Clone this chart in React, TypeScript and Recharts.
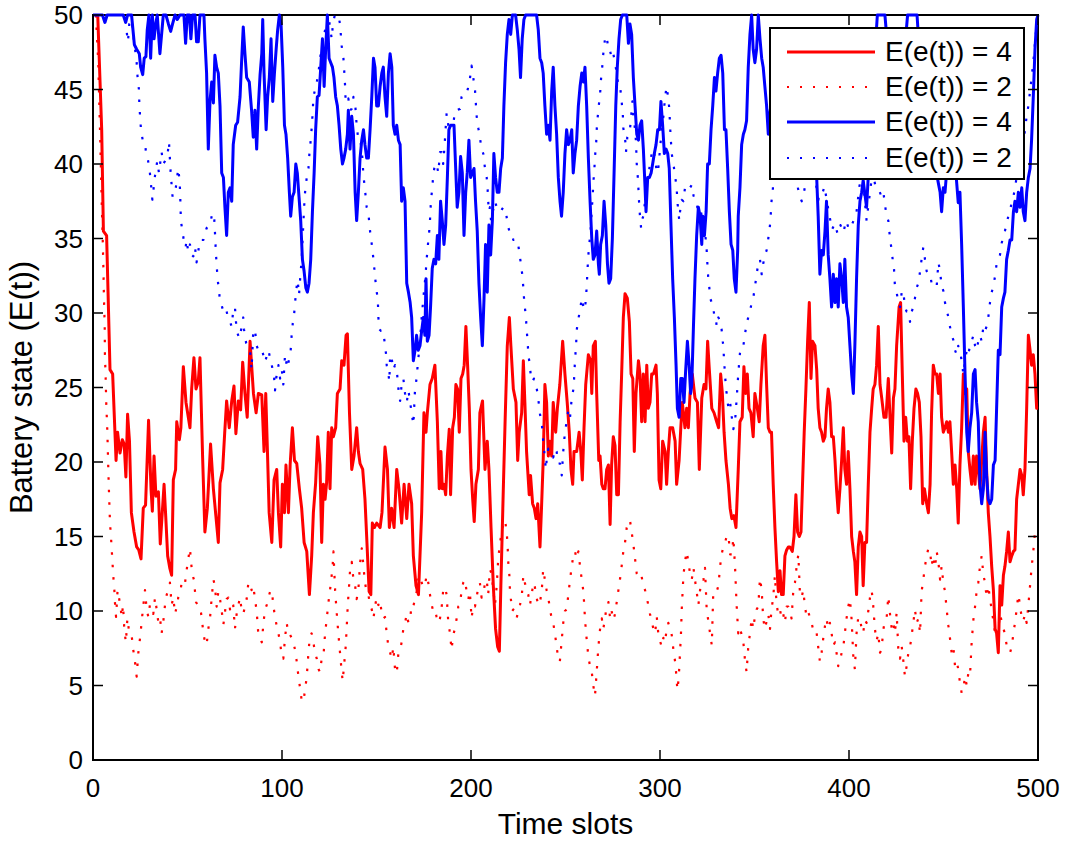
import React from 'react';
import { LineChart, Line, XAxis, YAxis, Legend, Label, ReferenceArea } from 'recharts';

// [time slot, battery state]
const RED_4: [number, number][] = [
  [2.5, 50], [4.6, 42.3], [5.5, 35.5], [7.2, 35.2], [9, 26.2], [10.4, 25.9], [12.2, 20.1], [13, 22], [14.3, 20.6], [15.5, 21.5],
  [16.5, 21.2], [17.4, 19], [18.3, 23.2], [19.3, 21.4], [20.3, 16.6], [21.7, 15.3], [23.1, 14.3], [24.2, 14.1], [25.4, 13.5], [26.6, 16.9],
  [27.8, 17.1], [29.4, 22.8], [30.7, 18.2], [31.4, 16.7], [32.3, 20.4], [33.3, 17.7], [34.6, 18], [35.6, 14.5], [37.6, 18.5], [38.5, 16.3],
  [39.5, 13.7], [40.6, 12.9], [41.6, 12.4], [42.5, 18.8], [43.7, 19.5], [44.3, 22.7], [45.7, 21.5], [46.5, 22.3], [47.8, 26.4], [49.2, 24],
  [51.3, 22.3], [52.2, 24.9], [53.4, 27], [54.5, 24.9], [55.7, 25.4], [56.6, 27], [58, 20.3], [59.2, 15.3], [60.5, 16.9], [62.2, 21.2],
  [63.7, 18.2], [65, 16.4], [66.3, 14.6], [67.2, 18.6], [68.6, 19.5], [69.7, 22], [70.7, 24.1], [72.1, 22.3], [73.4, 24.1], [74.6, 25.1],
  [75.6, 21.9], [76.9, 24.1], [78.1, 23.5], [79.2, 26.7], [80.4, 24.6], [81.6, 23], [83.1, 28.1], [84.9, 24.6], [86.3, 23.3], [87.5, 24.6],
  [89.3, 24.5], [90.5, 20.7], [91.4, 24.6], [92.3, 20.7], [93.2, 16.6], [94.6, 14.6], [95.8, 18.8], [97.2, 19.5], [98.1, 16.6], [99.3, 14.3],
  [100.2, 18.5], [101.3, 16.6], [102.1, 19.8], [103.4, 16.6], [104.3, 19.8], [105.5, 22.3], [106.6, 20.1], [107.8, 19.9], [109.2, 18.2], [110.4, 16.9],
  [111.7, 14.6], [113.1, 14], [114.5, 11.1], [115.7, 13.7], [116.6, 16.6], [117.8, 18.6], [118.9, 21.7], [120.1, 19.8], [121, 14.6], [121.9, 18.5],
  [122.8, 17.5], [123.6, 18.6], [124.5, 22], [125.4, 18.2], [126.3, 22.3], [127.2, 21.7], [128.4, 22.3], [129.3, 24.6], [130.7, 24.9], [131.6, 26.8],
  [132.8, 26.5], [133.9, 28.5], [134.6, 28.6], [135.7, 23.3], [136.9, 19.5], [138.1, 20.4], [139.5, 22.3], [140.4, 20.7], [141.3, 19.9], [142.7, 19.5],
  [143.9, 17.5], [144.8, 15], [146.1, 11.3], [147, 11.1], [147.8, 15.9], [148.9, 15.6], [150.1, 15.9], [151.9, 15.6], [152.9, 16.6], [154.5, 21],
  [155.8, 19.5], [156.8, 15.6], [158, 16.9], [159.3, 15.6], [160.7, 19.5], [161.9, 18.2], [163.3, 15.9], [164.6, 18.5], [166, 16.2], [167.2, 18.5],
  [168.6, 17.2], [169.5, 13.7], [170.9, 11.7], [172.2, 11.1], [173.9, 16.6], [175.1, 23.3], [176.2, 22], [176.9, 23.3], [178.3, 25.2], [179.5, 25.6],
  [180.9, 26.5], [182.2, 22.7], [183.2, 18.2], [184.1, 20.7], [184.8, 18.2], [185.7, 18.5], [186.6, 17.8], [187.5, 20.4], [188.5, 22.2], [189.2, 17.8],
  [190.3, 22.3], [191.2, 23], [192, 25.2], [192.9, 24.9], [193.8, 22], [194.7, 25.6], [195.6, 25.9], [196.4, 26.5], [197.3, 29.1], [198.2, 26.5],
  [199.1, 23.6], [200, 19.5], [200.9, 17.5], [201.7, 16], [202.6, 18.5], [203.9, 19.5], [204.7, 23.3], [206.1, 24.1], [207.4, 19.5], [208.6, 21.4],
  [209.5, 19.5], [210.6, 15.6], [211.8, 11.7], [213, 8.8], [214.1, 7.6], [215, 7.3], [215.8, 11.7], [217.1, 18.2], [218.1, 23], [219.2, 27.8],
  [220.3, 29.7], [221.1, 27.8], [222.4, 24.9], [223.8, 24], [224.7, 20.1], [225.5, 22], [226.8, 23.3], [227.7, 26.8], [228.5, 24], [229.4, 20.7],
  [230.8, 17.8], [231.5, 19.1], [232.6, 17.2], [233.5, 16.9], [234.4, 16.2], [235.3, 17.2], [236.5, 14.3], [237.3, 16.9], [238.2, 20.1], [239.1, 25.2],
  [240, 24], [240.9, 20.4], [241.8, 21.4], [242.7, 20.4], [243.5, 24], [244.8, 22], [245.7, 23.6], [247, 25.2], [248.5, 28.1], [249.7, 25.9],
  [250.9, 24], [252, 22], [252.9, 19.5], [253.8, 18.5], [254.5, 20.7], [255.9, 20.7], [257.2, 22], [258.1, 20.7], [258.9, 18.8], [259.8, 22.3],
  [260.7, 25.2], [262.1, 27.2], [263.3, 26.8], [263.9, 24.6], [264.7, 27.8], [265.8, 28.1], [266.5, 24.6], [267.6, 20.1], [268.3, 20.4], [269.2, 18.5],
  [270, 18.2], [270.9, 18.2], [271.8, 19.5], [272.7, 19.8], [273.6, 15.8], [274.4, 19.8], [275.3, 21.7], [276.2, 21.1], [277.1, 17.8], [278, 17.8],
  [278.9, 22.7], [279.7, 25.9], [280.6, 29.7], [281.5, 31.3], [282.7, 31], [283.8, 29.4], [284.7, 25.9], [285.6, 25.6], [286.4, 20.7], [287.3, 24.6],
  [288.6, 26.8], [289.4, 25.9], [290.3, 22.7], [291.2, 25.9], [292.1, 22.7], [293, 26.5], [293.8, 23.6], [294.7, 24], [295.6, 25.9], [296.5, 25.9],
  [297.9, 26.5], [298.6, 24.6], [299.5, 18.8], [300.4, 18.2], [301.4, 21.4], [302.7, 20.7], [303.5, 18.5], [304.4, 20.7], [305.3, 22.3], [306.7, 22.3],
  [308, 21.4], [308.8, 18.5], [310.1, 20.1], [311, 22.3], [311.8, 24], [313.2, 22.3], [314.1, 23.6], [315, 22.3], [315.9, 24.6], [317.1, 25.9],
  [318.5, 24.3], [319.8, 24], [320.8, 19.5], [322.1, 24.3], [323.3, 25.2], [324.3, 24.9], [325.2, 28.1], [326.1, 26.2], [327.4, 23.6], [328.6, 23.3],
  [330, 22.7], [331, 22.3], [332.1, 25.9], [333, 24.6], [333.9, 22], [334.9, 20.1], [336.2, 18.5], [337.1, 16.9], [338, 16.2], [339.1, 16.4],
  [340.2, 15.6], [341.4, 19.5], [342.3, 22.7], [343.5, 23], [344.4, 26.4], [345.3, 24.6], [346.2, 25.9], [347.1, 23.6], [348.1, 23.3], [349.3, 21.7],
  [350.2, 24.6], [351.5, 23.6], [352.5, 22.7], [353.4, 25.2], [354.6, 27.8], [355.5, 28.5], [356.4, 25.2], [357.3, 22.3], [358.2, 22], [359, 22],
  [359.9, 18.5], [360.8, 15.6], [361.7, 13.3], [362.6, 11.3], [363.5, 12.7], [364.3, 11.1], [365.2, 11.1], [366.1, 13.7], [367, 14.1], [367.9, 14.3],
  [368.7, 14.3], [370, 14], [370.9, 15], [371.9, 17.8], [372.8, 15.3], [373.7, 15], [374.6, 15.3], [375.4, 18.5], [376.3, 22], [377.2, 24.9],
  [378.1, 28.1], [379, 30.7], [379.9, 25.6], [380.7, 28.1], [382, 27.8], [382.9, 26.2], [383.7, 23.6], [384.6, 22.3], [385.5, 22], [386.4, 21.4],
  [387.3, 21.7], [388.1, 23.6], [389, 24.9], [389.9, 24], [390.8, 21.7], [391.7, 21.7], [392.6, 20.1], [393.4, 18.2], [394.3, 16.6], [395.2, 18.2],
  [396.1, 20.1], [397, 22.3], [397.8, 19.5], [398.7, 18.5], [399.6, 20.7], [400.5, 18.2], [401.4, 15], [402.3, 14], [403.1, 13.3], [404, 11.1],
  [404.9, 14.3], [405.8, 15.3], [406.7, 15], [407.5, 11.7], [408.4, 14.6], [409.3, 14.6], [410.2, 18.5], [411.1, 22], [412, 23.6], [412.8, 24.9],
  [413.7, 25.2], [414.6, 26.5], [415.5, 29.1], [416.4, 25.2], [417.3, 24.3], [418.5, 23], [419.6, 23], [420.8, 25.6], [421.7, 23], [422.6, 20.6],
  [423.5, 24.3], [424.3, 24.9], [425.2, 27.8], [426.5, 30.4], [427.3, 30.7], [428.2, 25.9], [429.1, 21.4], [430, 23], [430.9, 21.4], [431.7, 21.7],
  [432.6, 18.2], [433.5, 21.4], [434.4, 23.6], [435.4, 24.9], [436.3, 24.6], [437.2, 24], [438.1, 21.7], [439, 17.2], [439.9, 18.2], [441.1, 17.2],
  [442, 16.6], [442.9, 18.5], [443.7, 23.3], [444.6, 26.5], [445.5, 25.9], [446.4, 25.9], [447.3, 24.6], [448.2, 25.9], [449, 23], [449.9, 22],
  [450.8, 22.3], [451.7, 22.7], [452.6, 22], [453.4, 22.7], [454.3, 20.7], [455.2, 18.5], [456.1, 19.8], [457, 18.2], [457.8, 15.9], [458.7, 19.8],
  [459.6, 22.3], [460.5, 25.9], [461.4, 24.6], [462.3, 24.9], [463.1, 20.7], [464, 19.5], [464.9, 18.5], [465.8, 20.4], [466.7, 18.5], [467.5, 20.4],
  [468.4, 19.5], [469.3, 18.2], [470.2, 20.1], [471.1, 22], [472, 23], [472.8, 19.5], [473.7, 16.6], [474.6, 15], [475.5, 13], [476.4, 11.4],
  [477.3, 8.8], [478.1, 8.5], [479, 7.2], [479.9, 11.7], [480.8, 10.4], [481.7, 12.4], [482.5, 13], [483.4, 14], [484.3, 15.3], [485.2, 13.3],
  [486.1, 13.7], [487, 14], [487.8, 14.1], [488.7, 17.5], [489.6, 18.5], [490.5, 19.5], [491.4, 19.1], [492.2, 17.8], [493.1, 19.5], [494, 23.6],
  [494.9, 28.5], [495.8, 27.5], [496.6, 26.5], [497.5, 27.2], [498.4, 25.9], [499.3, 23.6], [500, 23.6],
];

const RED_2: [number, number][] = [
  [1.5, 50], [2.8, 46.8], [3.3, 44.2], [3.7, 42.3], [4.2, 39.7], [4.6, 37.5], [5.1, 35.2], [5.5, 33], [5.8, 31], [6.2, 29.1],
  [6.3, 27.3], [6.7, 25.6], [7, 24], [7.6, 22], [8.1, 19.5], [8.5, 17.8], [9, 15.9], [9.5, 15], [10.2, 13.5], [10.7, 12.4],
  [11.3, 11.4], [11.6, 10.6], [12.2, 9.6], [13, 11.4], [14.3, 10.5], [15.2, 9.6], [15.9, 10.4], [16.6, 8.7], [17.4, 7.9], [18.2, 9.5],
  [19.2, 8.5], [20.4, 8.4], [21.3, 7.4], [22.2, 6.6], [23.1, 5.6], [24, 7.2], [24.9, 8.2], [25.7, 9.2], [26.3, 10], [27, 10.8],
  [27.5, 11.4], [28.4, 10.1], [29.3, 9.6], [30.1, 10.4], [31, 10.3], [31.9, 9.8], [32.8, 10.9], [33.7, 10.1], [34.6, 9.2], [35.5, 9.5],
  [36.3, 8.5], [37.2, 9.3], [38.1, 10.4], [39, 11.1], [39.9, 11.4], [40.7, 11.9], [41.6, 10.4], [42.5, 10.9], [43.4, 9.8], [44.3, 10.3],
  [45.1, 10.9], [46, 11.1], [46.9, 11.9], [47.8, 12.1], [48.7, 11.9], [49.5, 12.7], [50.4, 13.5], [51.3, 14.2], [51.8, 13.4], [52.5, 12.5],
  [53.4, 12.1], [54.5, 10.6], [55.4, 10.4], [56.6, 10.3], [57.5, 9.6], [58.4, 8.5], [59.3, 7.9], [60.1, 7.7], [61, 8.8], [61.9, 9.5],
  [62.8, 10.9], [63.7, 12.1], [64.5, 11.7], [65.4, 10.3], [66.3, 11.3], [67.2, 10.8], [68.1, 10], [69, 9.1], [69.8, 9.9], [70.7, 10.8],
  [71.6, 10.9], [72.5, 10.1], [73.4, 10.6], [74.2, 10.4], [75.1, 8.8], [76, 9.8], [76.9, 10.4], [77.8, 10.9], [78.6, 10.1], [79.5, 9.8],
  [80.4, 10.3], [81.3, 10.8], [82.2, 11.9], [83.1, 11.9], [83.9, 11.4], [84.8, 11.7], [85.7, 10.8], [86.6, 10], [87.5, 8.4], [88.4, 8.2],
  [89.3, 7.9], [90.2, 9.2], [91, 10.1], [91.9, 10.4], [92.8, 10.9], [93.7, 11.3], [94.6, 11.4], [95.4, 10.4], [96.3, 9.6], [97.2, 9],
  [98.1, 8.5], [99, 7.9], [99.9, 6.9], [100.7, 6.8], [101.6, 8.2], [102.5, 9.2], [103.4, 8.4], [104.3, 8.4], [105.1, 8.2], [106, 7.9],
  [106.9, 7.4], [107.8, 6.6], [108.7, 5.6], [109.6, 4.8], [110.4, 4], [111.3, 3.9], [112.2, 4.7], [113.1, 5.6], [114, 7.2], [114.8, 8.4],
  [115.7, 8.5], [116.6, 7.9], [117.5, 7.2], [118.4, 6.8], [119.3, 6.1], [120.1, 5.9], [121, 6.8], [121.9, 6.9], [122.8, 8.5], [123.7, 9.5],
  [124.5, 10.5], [125.4, 11.4], [126.3, 12.4], [126.8, 13], [127.2, 14], [128.1, 11.4], [129, 9.8], [129.8, 8.5], [130.7, 7.2], [131.6, 5.9],
  [132.1, 5.3], [132.8, 6.3], [133.7, 7.6], [134.2, 8.8], [134.8, 10.4], [135.5, 11.7], [136, 12.7], [136.9, 13.3], [137.8, 12.1], [138.7, 11.7],
  [139.5, 10.8], [140.4, 11.4], [141.3, 13.2], [142.2, 14.2], [143.1, 13], [143.9, 11.9], [144.8, 11.3], [145.7, 11.1], [146.6, 10.4], [147.5, 10.1],
  [148.4, 9.5], [149.2, 10.3], [150.1, 10.9], [151, 10.4], [151.9, 10.7], [152.8, 9.8], [153.6, 9.5], [154.5, 9.6], [155.4, 8.5], [156.3, 7.6],
  [157.2, 7.2], [158.1, 6.8], [158.9, 7.6], [159.8, 6.1], [160.7, 5.8], [161.6, 7.2], [162.5, 7.4], [163.3, 7.9], [164.2, 8.8], [165.1, 9.2],
  [166, 9.8], [166.9, 9.2], [167.8, 9.5], [168.6, 10.4], [169.5, 10.3], [170.3, 10.8], [171.2, 11.3], [172.1, 12.1], [173, 12.4], [173.9, 11.9],
  [174.8, 11.6], [175.6, 11.7], [176.5, 12.4], [177.4, 11.9], [178.3, 11.1], [179.2, 10.4], [180, 10], [180.9, 10.1], [181.8, 9.6], [182.7, 9.2],
  [183.6, 9.5], [184.5, 10.3], [185.3, 11.4], [186.2, 11.6], [187.1, 11.1], [188, 9.2], [188.9, 8.5], [189.7, 7.4], [190.6, 8.4], [191.5, 8.8],
  [192.4, 9.5], [193.3, 10.3], [194.2, 10.4], [195, 11.4], [195.9, 11.9], [196.8, 12.1], [197.7, 11.3], [198.6, 10.8], [199.4, 11.3], [200.3, 9.5],
  [201.2, 10.4], [202.1, 10.3], [203, 10.9], [203.9, 11.7], [204.7, 11.9], [205.6, 10.9], [206.5, 11.1], [207.4, 11.9], [208.3, 12.1], [209.1, 11.1],
  [210, 12.8], [210.9, 12.5], [211.8, 11.4], [212.7, 10.4], [213.6, 11.7], [214.4, 13.5], [215.3, 14.5], [216.2, 15.3], [217.1, 15.9], [218, 16.1],
  [218.9, 15.3], [219.4, 14.3], [219.7, 13.3], [220.3, 12.4], [220.6, 11.4], [221.1, 10.8], [221.8, 10], [222.4, 10.1], [223.3, 9.6], [224.1, 9.5],
  [225, 10], [225.9, 10.4], [226.8, 10.9], [227.7, 12.4], [228.5, 11.9], [229.4, 11.4], [230.3, 11.1], [231.2, 10.4], [232.1, 11.1], [233, 11.9],
  [233.8, 11.6], [234.7, 10.9], [235.6, 10.4], [236.5, 10.6], [237.4, 11.3], [238.2, 12.8], [239.1, 12.1], [240, 11.4], [240.9, 10.9], [241.8, 10.1],
  [242.7, 9.5], [243.5, 9.2], [244.4, 8.5], [245.3, 7.6], [246.2, 6.8], [247, 6.6], [247.9, 7.9], [248.8, 9.2], [249.7, 10], [250.6, 10.1],
  [251.5, 11.1], [252.4, 12.1], [253.2, 12.9], [254.1, 13.7], [255, 14], [255.9, 13.5], [256.8, 14], [257.7, 13], [258.6, 12.1], [259.5, 11.3],
  [260.3, 9.5], [260.9, 8.5], [261.6, 7.6], [262.1, 6.9], [263, 6.3], [263.9, 5.9], [264.7, 5], [265.6, 4.3], [266.5, 5.9], [267.4, 7.6],
  [268.3, 8.8], [269.2, 9.5], [270, 8.8], [270.9, 9.5], [271.8, 10.4], [272.7, 10.6], [273.6, 9.5], [274.4, 10], [275.3, 9.4], [276.2, 9.8],
  [277.1, 10.6], [278, 11.4], [278.9, 12.2], [279.7, 13], [280.6, 14], [281.5, 14.6], [282.4, 15.6], [283.3, 15.9], [284.1, 16.1], [285, 15.3],
  [285.9, 14.5], [286.8, 13.5], [287.7, 12.5], [288.6, 12.3], [289.4, 12.5], [290.3, 12.3], [291.2, 11.7], [292.1, 11.4], [293, 10.9], [293.8, 10.4],
  [294.7, 9.8], [295.6, 9.3], [296.5, 8.8], [297.4, 8.5], [298.3, 9.6], [299.1, 8.5], [300, 8], [300.9, 7.6], [301.8, 8.2], [302.7, 7.9],
  [303.5, 8.8], [304.4, 9.2], [305.3, 8.8], [306.2, 8.4], [307.1, 7.4], [308, 6.6], [308.5, 5.9], [309.2, 4.7], [309.9, 5.5], [310.6, 7.2],
  [311.1, 8.5], [311.5, 10.1], [312, 11.4], [312.4, 12.4], [313.2, 13.3], [314.1, 14], [315, 13.3], [315.9, 12.5], [316.8, 12.1], [317.7, 12.9],
  [318.5, 12.1], [319.4, 11.3], [320.3, 10.4], [321.2, 11.4], [322.1, 12.1], [323, 12.1], [323.8, 12.9], [324.7, 10.1], [325.6, 9.3], [326.5, 8.5],
  [327.4, 7.7], [328.2, 11.3], [329.1, 11.3], [330, 11.3], [330.9, 11.7], [331.8, 13], [332.6, 13.8], [333.5, 14.3], [334.4, 14.6], [335.3, 15],
  [336.2, 15.1], [337.1, 13.8], [338, 13.8], [338.8, 14.9], [339.7, 13], [340.5, 10.5], [341.4, 8.5], [342.3, 8.9], [343.2, 8.4], [344.1, 7.9],
  [344.9, 6.8], [345.8, 5.9], [346.7, 7.6], [347.6, 8.5], [348.5, 9.5], [349.3, 8.8], [350.2, 9.6], [351.1, 10.1], [352, 10.3], [352.9, 12.2],
  [353.8, 11.4], [354.6, 9.5], [355.5, 8.8], [356.4, 9.3], [357.3, 9.8], [358.2, 8.8], [359, 10.1], [359.9, 10.9], [360.8, 12.4], [361.7, 10.4],
  [362.6, 9.8], [363.5, 10.1], [364.3, 9.5], [365.2, 9.8], [366.1, 9.2], [367, 10.3], [367.9, 10.3], [368.7, 10.1], [369.6, 9.5], [370.5, 11.3],
  [371.4, 11.9], [372.3, 13], [373.2, 13.8], [374, 11.3], [374.9, 10.9], [375.8, 11.4], [376.7, 10.3], [377.6, 9.6], [378.5, 9.9], [379.3, 9.6],
  [380.2, 9.2], [381.1, 8.7], [382, 8.4], [382.9, 8.5], [383.7, 7.6], [384.6, 6.6], [385.5, 7.2], [386.4, 8.2], [387.3, 9], [388.1, 9.5],
  [389, 8.8], [389.9, 9.2], [390.8, 8.5], [391.7, 7.7], [392.6, 7.9], [393.4, 7.2], [394.3, 6.3], [395.2, 6.6], [396.1, 7.2], [397, 7.6],
  [397.8, 8.5], [398.7, 9.5], [399.6, 10.3], [400.5, 10.8], [401.4, 9.4], [402.3, 6.9], [403.1, 6.1], [404, 8.5], [404.9, 9.6], [405.8, 9.5],
  [406.7, 8.8], [407.5, 8.5], [408.4, 9.4], [409.3, 9.2], [410.2, 10], [411.1, 10.9], [412, 11.4], [412.8, 10.4], [413.7, 8.8], [414.6, 8],
  [415.5, 8.5], [416.4, 7.2], [417.2, 7.4], [418.2, 8.8], [419, 9.3], [419.9, 9.5], [420.8, 11], [421.7, 9.8], [422.6, 8.8], [423.4, 9.2],
  [424.3, 8.5], [425.2, 9.9], [426.1, 7.4], [427, 6.8], [427.9, 7.6], [428.8, 6.6], [429.6, 5.6], [430.5, 6.3], [431.4, 7.2], [432.3, 7.6],
  [433.2, 8.4], [434, 9.2], [434.9, 10.1], [435.8, 9.2], [436.7, 9.5], [437.6, 8.5], [438.4, 11.3], [439.3, 12.1], [440.2, 13], [441.1, 13.7],
  [442, 14.2], [442.9, 14], [443.7, 13], [444.6, 13.7], [445.5, 12.9], [446.4, 14], [447.3, 13.3], [448.2, 12.1], [449, 13], [449.9, 11.9],
  [450.8, 11.3], [451.7, 10.1], [452.6, 9], [453.4, 8.2], [454.3, 7.2], [455.2, 7.6], [456.1, 6.3], [457, 6.6], [457.8, 6.1], [458.7, 5.2],
  [459.6, 4.5], [460.5, 4.8], [461.4, 5.6], [462.3, 5], [463.1, 5.8], [464, 5.6], [464.9, 7.9], [465.8, 9.4], [466.7, 10.3], [467.5, 11.3],
  [468.4, 11.9], [469.3, 13], [470.2, 13.7], [471.1, 12.4], [472, 11.9], [472.8, 10.9], [473.7, 11.7], [474.6, 10.8], [475.5, 10.1], [476.4, 9.3],
  [477.3, 8.5], [478.1, 8.2], [479, 8.8], [479.9, 9.8], [480.8, 9.3], [481.7, 8.8], [482.5, 8.5], [483.4, 7.7], [484.3, 7.4], [485.2, 7.2],
  [486.1, 7.6], [487, 8.5], [487.8, 9.2], [488.7, 10.1], [489.6, 11.1], [490.5, 10.4], [491.4, 9.5], [492.2, 9.3], [493.1, 9.8], [494, 9.2],
  [494.9, 10.4], [495.8, 11.7], [496.6, 12.9], [497.5, 14], [498.4, 15.3], [499.3, 15.6], [500, 15.6],
];

const BLUE_4: [number, number][] = [
  [0, 50], [5, 50], [6.3, 49.5], [7.5, 50], [16, 50], [17.3, 49.5], [18.3, 50], [20.4, 50], [21.9, 48], [23.1, 47.7],
  [24.5, 47.4], [25.2, 46.5], [26.3, 46], [27.1, 47.1], [28, 47.2], [28.7, 49], [29.6, 50], [30.5, 47.1], [31.4, 50], [32.3, 48.4],
  [33.2, 49.4], [34, 50], [35.4, 47.4], [36.3, 48.7], [37.2, 50], [38.6, 50], [39.9, 49.4], [41.1, 48.9], [42.1, 49.4], [43.4, 50],
  [44.6, 49.7], [46, 50], [48.1, 50], [49, 48.1], [49.9, 50], [51, 50], [51.8, 48.4], [52.7, 50], [54, 50], [54.8, 48.2],
  [55.7, 48.2], [56.6, 50], [58.7, 50], [59.2, 48.4], [60.1, 46.1], [61, 41], [61.9, 44.2], [62.8, 45.5], [63.7, 44.1], [64.5, 47.3],
  [65.4, 46.5], [66.3, 46.1], [67.2, 43.9], [68.1, 39.4], [69, 39.1], [69.8, 37.1], [70.7, 35.2], [71.6, 38.1], [72.5, 38.4], [73.4, 37.5],
  [74.2, 41.3], [75.5, 42.6], [76.5, 42.8], [77.8, 44.5], [78.6, 46.8], [79.5, 49.2], [80.4, 47.4], [81.3, 45.8], [82.7, 45.5], [83.9, 43.6],
  [84.8, 41.8], [85.7, 43.6], [86.6, 41], [87.5, 43.9], [88.4, 46], [89.3, 47.4], [89.8, 49.7], [90.5, 46.1], [91.6, 42.3], [92.4, 44.5],
  [93.3, 45.8], [94.2, 48.4], [95.1, 44.2], [96, 46.1], [96.9, 47.7], [97.7, 49], [98.6, 50], [99.5, 49.4], [100.4, 46.5], [101.3, 42.6],
  [102.1, 42], [103, 40.4], [103.9, 38.1], [104.6, 36.5], [105.5, 37.8], [106.4, 38.1], [107.3, 40], [108.1, 39.4], [109, 37.8], [109.9, 36.2],
  [110.8, 33.6], [111.7, 32.8], [112.6, 31.7], [113.4, 31.4], [114.3, 32], [115.2, 33.6], [116.1, 36.8], [117, 39.4], [117.8, 42.3], [118.7, 44.5],
  [119.6, 44.6], [120.5, 46.5], [121.4, 48.4], [122.3, 45.2], [123.1, 47.7], [124, 50], [124.9, 47.1], [125.8, 46.8], [126.7, 46.5], [127.5, 45.8],
  [128.4, 44.5], [129.3, 43.9], [130.2, 42.6], [131.1, 41], [132, 40], [132.8, 40.4], [133.7, 41], [134.6, 42], [135.1, 43.6], [136, 41],
  [136.9, 43.2], [137.8, 42], [138.7, 38.1], [139.5, 36.2], [140.4, 38.1], [141.3, 40.4], [142.2, 41.6], [143.1, 42.3], [143.9, 41.3], [144.8, 40.4],
  [145.7, 40.4], [146.6, 42.3], [147.5, 44.5], [148.4, 47.1], [149.2, 46.5], [150.1, 43.9], [151, 43.9], [151.9, 45.2], [152.8, 46.1], [153.6, 46.5],
  [154.5, 44.5], [155.4, 43.2], [156.3, 46.1], [157.2, 47.4], [158.1, 46.5], [158.9, 42.6], [159.8, 42], [160.7, 42.6], [161.6, 41.6], [162.5, 41.3],
  [163.3, 37.5], [164.2, 38.4], [165.1, 37.5], [166, 32], [166.9, 31.4], [167.8, 30.7], [168.6, 29.7], [169.5, 26.8], [170.4, 27.5], [171.2, 28.5],
  [172.1, 27.5], [173, 27.8], [173.9, 28.8], [174.8, 29.7], [175.6, 28.5], [176.2, 32.3], [176.9, 28.1], [177.8, 28.5], [178.6, 30.4], [179.5, 33],
  [180.4, 33.6], [181.3, 33.3], [182.2, 35.2], [183, 33.6], [183.9, 37.5], [184.8, 36.2], [185.7, 34.6], [186.6, 35.9], [187.5, 39.1], [188.3, 42.3],
  [189.2, 42.6], [190.1, 42.6], [191, 42.6], [191.9, 39.7], [192.7, 37.1], [193.6, 38.1], [194.5, 40.5], [195.4, 39.4], [196.3, 35.2], [197.2, 38.1],
  [198, 39.4], [198.9, 41.6], [199.8, 39.1], [200.7, 39.4], [201.6, 39.7], [202.4, 37.5], [203.3, 35.5], [204.2, 32], [205.1, 29.7], [206, 27.8],
  [206.9, 31], [207.7, 34.6], [208.6, 31.4], [209.5, 35.9], [210.4, 33.9], [211.3, 36.2], [212.1, 40.7], [213, 39.1], [213.9, 38.1], [214.8, 38.1],
  [215.7, 39.7], [216.6, 40.4], [217.4, 43.9], [218.3, 46.8], [219.2, 48.7], [220.1, 49.7], [221, 48.7], [221.9, 50], [223.6, 50], [224.5, 49],
  [225.4, 47.7], [226.2, 45.8], [227.1, 48.4], [228, 49.7], [228.9, 50], [234.7, 50], [235.6, 49], [236.5, 47.1], [237.4, 46.8], [238.2, 46.1],
  [239.1, 43.9], [240, 42], [240.9, 42.6], [241.8, 41.6], [242.7, 44.9], [243.5, 46.5], [244.4, 43.9], [245.3, 42], [246.2, 39.1], [247.1, 37.5],
  [247.9, 36.5], [248.8, 38.1], [249.7, 40.7], [250.6, 42.3], [251.5, 41.3], [252.4, 41.6], [253.3, 42.3], [254.1, 39.4], [255, 40.7], [255.9, 41.6],
  [256.8, 43.9], [257.7, 45.2], [258.6, 46.1], [259.5, 45.5], [260.3, 46.5], [261.2, 43.9], [262.1, 40.4], [263, 37.5], [263.9, 35], [264.7, 33.6],
  [265.6, 33.9], [266.5, 35.5], [267.4, 33.3], [267.9, 32.6], [268.6, 34.6], [269.5, 35.2], [270.4, 37.5], [271.3, 35.9], [272.2, 33.3], [273, 32],
  [273.9, 32.3], [274.8, 35], [275.7, 39.4], [276.6, 43.9], [277.4, 46.5], [278.3, 48.4], [279.2, 49.7], [280.1, 50], [282.4, 50], [283.3, 48.1],
  [284.1, 49.4], [285, 48.7], [285.9, 45.8], [286.8, 43.9], [287.7, 42], [288.6, 41.6], [289.4, 42.6], [290.3, 42.9], [291.2, 41], [292.1, 38.4],
  [292.6, 36.8], [293.5, 39.1], [294.4, 39.1], [295.3, 39.4], [296.1, 40], [297, 40.7], [297.9, 41.3], [298.8, 42.3], [299.7, 42.3], [300.5, 44.2],
  [301.4, 42.6], [302.3, 40.7], [303.2, 41], [304.1, 40.7], [304.9, 39.7], [305.8, 35.9], [306.7, 32.3], [307.6, 29.7], [308.5, 26.5], [309.2, 23.6],
  [310.1, 23], [311, 25.6], [311.8, 25.6], [312.7, 24], [313.6, 26.2], [314.5, 28.1], [315.4, 26.5], [316.2, 24.6], [316.8, 25.2], [317.7, 29.1],
  [318.5, 32.3], [319.4, 35.2], [320.3, 37.1], [321.2, 36.5], [322.1, 34.6], [322.6, 36.5], [323.5, 35.2], [324.4, 36.8], [325.2, 40], [326.1, 40],
  [327, 42.3], [327.9, 43.9], [328.8, 45.8], [329.6, 44.9], [330.5, 46.1], [331.4, 47.1], [332.3, 47.3], [333.2, 46.1], [334.1, 42.3], [334.9, 42.3],
  [335.8, 39.7], [336.7, 36.8], [337.6, 34.6], [338.5, 34.2], [339.3, 32.3], [340.2, 31.4], [341.1, 34.2], [341.4, 36.5], [342.3, 38.4], [343.2, 41.3],
  [344.1, 42], [344.9, 42.3], [345.8, 42.9], [346.7, 46.5], [347.6, 48.7], [348.5, 50], [349.3, 47.7], [350.2, 46.8], [351.1, 47.7], [352, 50],
  [352.9, 48.4], [353.8, 47.1], [354.6, 46.5], [355.5, 45.2], [356.4, 43.9], [357.3, 42], [358.2, 43.5], [360, 45], [363, 47], [366, 48],
  [370, 47], [373, 46], [376, 44], [379, 46], [381, 42], [382.9, 39.1], [383.7, 36.5], [384.6, 32.6], [385.5, 34.2], [386.4, 33.9],
  [387.3, 35.5], [388.1, 37.5], [389, 33.9], [389.9, 32.3], [390.8, 30.4], [391.7, 32.6], [392.6, 30.7], [393.4, 32.3], [394.3, 30.4], [395.2, 33.3],
  [396.1, 32.3], [397, 30.7], [397.8, 33.6], [398.7, 30.4], [399.6, 29.7], [400.5, 27.8], [401.4, 25.9], [402.3, 24.6], [403.1, 27.8], [404, 32.3],
  [404.9, 35.9], [405.8, 37.5], [406.7, 38.1], [407.5, 38.9], [409.3, 37.1], [411, 41], [413, 46], [415, 50], [419, 50], [421, 47],
  [425, 45], [429, 47], [431, 50], [436, 50], [438, 46], [441, 43], [444, 41], [447.3, 38.7], [448.2, 38.1], [449, 36.8],
  [449.9, 38.4], [450.8, 38.1], [452, 40], [455, 42], [457, 38.7], [457.8, 37.4], [458.7, 38.1], [459.6, 34.6], [460.5, 30.4], [461.4, 25.9],
  [462.3, 22], [463.1, 20.7], [464, 22.3], [464.9, 23.3], [465.8, 25.9], [466.7, 26.2], [467.5, 24], [468.4, 22.7], [469.3, 18.5], [470.2, 17.2],
  [471.1, 18.2], [472, 22], [472.8, 19.1], [473.7, 17.5], [474.6, 17.2], [475.5, 17.5], [476.4, 19.8], [477.3, 20.1], [478.1, 23.6], [479, 27.5],
  [479.9, 27.2], [480.8, 30.4], [481.7, 31], [482.5, 31.4], [483.4, 33.6], [484.3, 34.2], [485.2, 34.9], [486.1, 34.9], [487, 36.8], [487.8, 37.5],
  [488.7, 36.8], [489.6, 38.1], [490.5, 37.1], [491.4, 38.4], [492.2, 36.8], [493.1, 36.2], [494, 38.1], [494.9, 39.1], [495.8, 39.7], [496.6, 41.6],
  [497.5, 44.5], [498.4, 47.7], [499.3, 49.7], [500, 50],
];

const BLUE_2: [number, number][] = [
  [0, 50], [17, 50], [17.8, 48.9], [18.5, 48.2], [19.2, 49.4], [20.4, 49.7], [21.5, 48.5], [23.1, 46.8], [23.6, 45.8], [24.3, 45],
  [24.5, 44.1], [24.9, 43.2], [25.4, 42.3], [26.3, 41.6], [27.5, 41.5], [28, 40.8], [28.7, 40.6], [30.1, 39.4], [30.7, 38.6], [31.4, 37.6],
  [32.8, 39.2], [34, 40.2], [34.9, 39.4], [36.3, 40.8], [37.2, 40], [38.1, 40.2], [39.5, 40.7], [40.2, 41.5], [41.1, 39.4], [42.1, 37.8],
  [43.4, 38], [44.3, 38.9], [45.1, 39.7], [45.8, 38.9], [46.1, 38.1], [46.5, 36.2], [47.4, 35.4], [48.3, 34.7], [49, 34.4], [49.5, 34.9],
  [50.4, 34.1], [51.3, 34.6], [52.2, 33.9], [53.1, 33.8], [54, 34.4], [54.8, 33.4], [56.6, 34.9], [58.4, 34.9], [60.1, 35.7], [61.9, 35.9],
  [62.8, 36.5], [64, 36.7], [64.5, 35.5], [65, 34.1], [65.9, 32.3], [66.7, 31.5], [67.2, 30.7], [68.1, 30.5], [69, 30.1], [70.4, 30.3],
  [71.2, 29.8], [72.5, 29.4], [73.4, 29.1], [74.2, 30.2], [75.1, 30.4], [76, 28.8], [77.4, 28.3], [78.6, 29], [79.5, 29.7], [79.9, 28.9],
  [81, 28], [82.2, 27.8], [83.1, 27.5], [83.4, 27], [83.9, 26.2], [84.8, 28.8], [85.7, 28.9], [86.6, 27.8], [87.5, 27.5], [89.3, 27.6],
  [91, 26.7], [92.8, 27.5], [94.6, 26.5], [95.8, 25.7], [96.3, 24.8], [97.2, 25.9], [98.1, 26.5], [99, 25.6], [99.9, 26.2], [100.7, 25.2],
  [101.6, 27.2], [102.8, 26.3], [103.9, 27], [104.6, 27.5], [105.1, 28.5], [105.7, 29.3], [106.4, 29.9], [106.9, 30.7], [107.8, 31.8], [108.3, 32.2],
  [109, 31.2], [109.6, 32.3], [110.4, 33.6], [111, 35.2], [111.7, 37.1], [112.2, 38.1], [113.1, 39.1], [114, 39.7], [114.5, 40.7], [115.2, 41.6],
  [115.7, 42.4], [116.3, 43.6], [116.6, 44.5], [118.4, 45.5], [119.3, 46.1], [120.1, 47.1], [121, 47.7], [121.9, 48.4], [122.8, 49], [124.5, 50],
  [126.3, 48.4], [127, 49.5], [128, 50], [129.8, 50], [130.7, 49.4], [131.6, 47.9], [132.5, 47.1], [133, 46.1], [133.4, 45.2], [133.7, 44.1],
  [134.2, 44.2], [135.1, 44.4], [136, 43.6], [136.9, 43.7], [137.8, 44.5], [138.7, 44.1], [139.5, 42.6], [140.4, 41.6], [141.3, 41.6], [142.2, 41],
  [143.1, 39.2], [143.9, 38.3], [144.8, 37.1], [145.7, 36.7], [146.6, 35.5], [147.5, 34.6], [148.4, 33.6], [149.2, 32.5], [149.8, 31.7], [150.7, 30.9],
  [151, 29.7], [151.5, 28.9], [152.4, 28.8], [153.6, 28.8], [154.5, 27.8], [155.1, 27.2], [155.4, 26.5], [156.3, 25.9], [156.8, 25.4], [157.2, 27.2],
  [158.1, 26.9], [158.9, 26.2], [159.8, 26.5], [160.7, 26.2], [161.6, 24.9], [162.5, 24.1], [163.3, 25.2], [164.2, 25.6], [165.1, 24.6], [166, 24],
  [166.9, 24.8], [167.8, 24], [168.6, 23.3], [169.5, 22.5], [170.4, 24.9], [171.2, 25.6], [171.8, 26.5], [173, 28.1], [173.9, 29.7], [174.8, 31],
  [175.3, 31.7], [176, 32.6], [176.5, 33.6], [177, 34.2], [177.4, 34.9], [177.9, 35.5], [178.3, 36.2], [178.8, 37.5], [179.5, 38.4], [180, 39.2],
  [180.9, 40], [181.8, 40], [182.7, 39.4], [183.6, 40.8], [184.5, 40.8], [185.3, 40], [186.2, 41.6], [187.1, 43.4], [188, 42.6], [188.9, 42.6],
  [190.6, 42.6], [191.5, 43.6], [192.4, 43.6], [194.2, 43.7], [195, 44.5], [195.9, 44.7], [197.7, 44.7], [198.6, 45.2], [199.4, 45.7], [200.3, 46.6],
  [201.2, 45.8], [202.1, 45], [203, 43.2], [203.9, 42.4], [204.7, 41.8], [205.6, 41], [206.5, 40.7], [207.4, 39.7], [208.3, 39.1], [208.8, 38.3],
  [209.1, 37.5], [209.5, 36.8], [210, 37.1], [210.6, 36.2], [211.5, 36.8], [212.7, 37.5], [213.6, 37.1], [214.4, 37.1], [215.5, 36.8], [217.1, 37.1],
  [218.5, 36.8], [219.4, 35.9], [220.3, 35.5], [221.2, 35.5], [222.4, 34.9], [223.8, 34.9], [224.7, 34.9], [225.5, 34.1], [226.4, 33.3], [227.1, 32.6],
  [227.7, 31.7], [228.2, 30.7], [229.1, 29.7], [229.4, 28.9], [230, 28.1], [230.3, 27.2], [231.2, 26.5], [231.7, 25.6], [232.6, 25.4], [233.3, 25.6],
  [234.4, 25.2], [235.2, 24.6], [236, 23.8], [236.5, 23.2], [237.4, 22.7], [238.2, 21.4], [238.8, 20.7], [239.1, 20.1], [239.7, 19.5], [240, 20.1],
  [240.9, 20.9], [241.8, 20.7], [242.7, 20.6], [243.5, 20.3], [244.4, 20.9], [245.3, 20.7], [246.2, 19.9], [247.1, 19.9], [248, 19.1], [248.8, 20.7],
  [249.7, 22], [250.6, 22.7], [251.5, 23.5], [252.4, 23], [253.3, 24.3], [254.2, 24.9], [254.7, 25.9], [255, 26.8], [255.6, 27.8], [255.9, 28.8],
  [256.5, 29.4], [257.7, 30.2], [258.6, 31], [259.5, 30.4], [260.3, 30.2], [261.2, 31.7], [261.6, 32.8], [262.1, 33.9], [262.6, 34.6], [263, 35.2],
  [263.5, 35.9], [263.9, 37], [264.4, 37.8], [264.7, 38.7], [265.3, 39.7], [265.6, 40.5], [266.2, 41.3], [266.5, 42.3], [267, 43.1], [267.6, 43.9],
  [268.3, 44.7], [268.8, 45.7], [269.5, 46.6], [270, 47.4], [270.9, 48.4], [271.8, 48.6], [272.7, 47.6], [273.6, 47.6], [274.4, 47.1], [275.3, 47.4],
  [276.2, 46.8], [277.1, 46.1], [278, 45.2], [278.9, 45.2], [279.7, 44.2], [280.3, 43.4], [280.6, 42.4], [281.5, 41.8], [282, 40.8], [282.7, 41.8],
  [283.3, 42], [284.1, 42.3], [284.6, 43], [285, 43.6], [285.4, 44.2], [285.9, 43.3], [286.8, 42.3], [287.3, 41.5], [287.7, 40], [288.2, 39.2],
  [288.6, 38.3], [288.9, 37.5], [289.4, 36.5], [290, 35.7], [290.3, 36.2], [291.2, 36.5], [292.1, 37.5], [293, 38.4], [293.8, 39.2], [294.7, 40],
  [295.6, 40.7], [296.5, 41], [297.4, 40.4], [298.3, 39.4], [299.1, 39.7], [300, 41], [300.9, 42.3], [301.8, 43.2], [302.7, 44.5], [303.5, 45.2],
  [304.4, 44.4], [305, 43.6], [305.3, 42.6], [305.8, 41.5], [306.2, 40.7], [307.1, 40], [308, 39.2], [308.8, 38.4], [309.2, 37.5], [309.7, 36.8],
  [310.2, 36.2], [310.6, 36.8], [311.5, 37.6], [312.4, 37.5], [313.2, 38.4], [314.1, 38.4], [315, 38.6], [315.9, 38.4], [316.8, 38.6], [317.7, 37.9],
  [318.5, 37.6], [319.4, 37.5], [320.3, 36.5], [321.2, 37.1], [322.1, 36.5], [323, 36.2], [323.8, 35.5], [324.7, 34.2], [325.2, 33], [325.6, 32.2],
  [326.1, 31.7], [326.5, 31], [327.4, 30.7], [328.2, 30.4], [328.8, 29.7], [329.5, 29.7], [330, 29.1], [330.9, 29.7], [331.8, 29.4], [332.6, 28.9],
  [333.2, 28.1], [333.5, 27.8], [333.9, 26.8], [334.4, 25.9], [334.9, 24.9], [335.3, 24.6], [336.2, 23.6], [337.1, 24], [338, 23], [338.8, 22.2],
  [339.7, 22.7], [340.6, 24.3], [341.4, 25.9], [342.3, 27.3], [343.2, 27.8], [344.1, 27.8], [344.9, 28.5], [345.8, 29.3], [346.7, 29.7], [347.6, 30.1],
  [348.5, 30.7], [349.3, 31], [350.2, 31.7], [351.1, 32.6], [352, 33.3], [352.9, 33.6], [353.8, 32.6], [354.6, 33.3], [355.5, 33.9], [356.4, 34.2],
  [357.3, 35], [358.2, 35.9], [358.7, 36.8], [359, 37.5], [359.6, 38.1], [359.9, 38.7], [361, 40], [364, 42], [368, 41], [371, 39.5],
  [374, 37.8], [375, 37.5], [376, 38], [379, 40], [382, 39], [384, 37.6], [385, 37.6], [387, 38.5], [389, 37], [390, 36.3],
  [391, 35.6], [392.5, 36], [394, 35.3], [395.5, 35.9], [397, 35.4], [398.5, 36.2], [400, 35.6], [401.5, 35.9], [403, 36.4], [404, 36.8],
  [405.5, 38.5], [407, 39.5], [409.3, 36.2], [411, 38], [412.5, 39.5], [414, 38.5], [415.5, 38.4], [417.2, 37.8], [418.2, 38.1], [419, 37.3],
  [419.9, 36.5], [420.8, 36.2], [421.7, 35], [422.6, 34.2], [423.1, 33.6], [423.8, 33], [424.3, 31.8], [425.2, 31.4], [426.1, 30.7], [427, 30.4],
  [427.9, 31.4], [428.7, 31.5], [429.6, 30.4], [430.5, 30.1], [431.4, 30.1], [432.3, 29.4], [433.2, 30.1], [434, 30.4], [434.9, 31], [435.8, 31.7],
  [436.7, 32], [437.6, 32.8], [438.4, 33.6], [439.3, 34.4], [440.2, 33.6], [441.1, 32.8], [442, 32.6], [442.9, 32.6], [443.7, 32], [444.6, 31.8],
  [445.5, 31.7], [446.4, 31.8], [447.3, 33.4], [448.2, 32.8], [449, 31.8], [449.9, 31.5], [450.8, 30.7], [451.7, 30.2], [452.6, 29.7], [453.4, 29.1],
  [454.3, 28.5], [455.2, 28.2], [456.1, 27.5], [457, 27.2], [457.8, 27.8], [458.7, 27.5], [459.6, 26.8], [460.5, 25.9], [461.4, 26.8], [462.3, 27.5],
  [463.1, 27.2], [464, 27.8], [464.9, 28.1], [465.8, 28.5], [466.7, 27.8], [467.5, 27.5], [468.4, 28.1], [469.3, 28.5], [470.2, 28.1], [471.1, 29.1],
  [472, 28.8], [472.8, 29.1], [473.7, 29.7], [474.6, 30.7], [475.5, 31.4], [476.4, 31.8], [477.3, 32.5], [478.1, 33.3], [479, 33.6], [479.9, 33.9],
  [480.8, 34.7], [481.7, 35.2], [482.5, 35.5], [483.4, 36], [484.3, 36.5], [485.2, 36.8], [486.1, 37.5], [487, 37.8], [487.8, 38.4], [488.7, 39.1],
  [489.6, 39.4], [490.5, 39.7], [491.4, 40.7], [492.2, 41.3], [493.1, 42.3], [494, 43.2], [494.9, 43.9], [495.8, 44.9], [496.6, 45.8], [497.5, 46.8],
  [498.4, 48.1], [499.3, 49.4], [500, 50],
];

const X_TICKS = [0, 100, 200, 300, 400, 500];
const Y_TICKS = [0, 5, 10, 15, 20, 25, 30, 35, 40, 45, 50];

const SERIES = [
  { name: 'E(e(t)) = 4', pts: RED_4, color: '#ff0000', dotted: false },
  { name: 'E(e(t)) = 2', pts: RED_2, color: '#ff0000', dotted: true },
  { name: 'E(e(t)) = 4', pts: BLUE_4, color: '#0000ff', dotted: false },
  { name: 'E(e(t)) = 2', pts: BLUE_2, color: '#0000ff', dotted: true },
];

const W = 1065;
const H = 853;
const LEFT = 93;
const RIGHT = 1038;
const TOP = 15;
const BOTTOM = 760;
const TICK = 10;
const FONT = '"Liberation Sans", Arial, Helvetica, sans-serif';
const DOTS = '2.5 10';
const LEGEND_DOTS = '2 11';

const toRows = (pts: [number, number][]) => pts.map(([t, v]) => ({ t, v }));

const XTick = ({ x, payload }: any) => (
  <g>
    <line x1={x} x2={x} y1={BOTTOM} y2={BOTTOM - TICK} stroke="#000" strokeWidth={1.5} />
    <line x1={x} x2={x} y1={TOP} y2={TOP + TICK} stroke="#000" strokeWidth={1.5} />
    <text x={x} y={797} textAnchor="middle" fontSize={26} fontFamily={FONT} fill="#000">{payload.value}</text>
  </g>
);

const YTick = ({ y, payload }: any) => (
  <g>
    <line x1={LEFT} x2={LEFT + TICK} y1={y} y2={y} stroke="#000" strokeWidth={1.5} />
    <line x1={RIGHT} x2={RIGHT - TICK} y1={y} y2={y} stroke="#000" strokeWidth={1.5} />
    <text x={83} y={y} dy="0.36em" textAnchor="end" fontSize={26} fontFamily={FONT} fill="#000">{payload.value}</text>
  </g>
);

const LegendBox = () => (
  <div style={{ width: 256, height: 153, boxSizing: 'border-box', border: '2px solid #000', background: '#fff', paddingTop: 5 }}>
    {SERIES.map((s, i) => (
      <div key={i} style={{ display: 'flex', alignItems: 'center', height: 35.3 }}>
        <svg width={114} height={10} style={{ flex: 'none' }}>
          <line x1={16} x2={104} y1={5} y2={5} stroke={s.color}
            strokeWidth={s.dotted ? 2 : 3} strokeDasharray={s.dotted ? LEGEND_DOTS : undefined} />
        </svg>
        <span style={{ fontFamily: FONT, fontSize: 28, color: '#000', whiteSpace: 'nowrap', lineHeight: 1 }}>{s.name}</span>
      </div>
    ))}
  </div>
);

export default function App() {
  return (
    <div style={{ position: 'absolute', left: 0, top: 0, width: W, height: H, background: '#fff' }}>
      <LineChart width={W} height={H} margin={{ top: TOP, right: W - RIGHT, bottom: 0, left: 0 }}>
        <XAxis type="number" dataKey="t" domain={[0, 500]} ticks={X_TICKS} height={H - BOTTOM}
          tick={<XTick />} tickLine={false} axisLine={{ stroke: '#000', strokeWidth: 2 }} allowDuplicatedCategory={false}>
          <Label content={() => (
            <text x={(LEFT + RIGHT) / 2} y={834} textAnchor="middle" fontSize={30} fontFamily={FONT} fill="#000">Time slots</text>
          )} />
        </XAxis>
        <YAxis type="number" domain={[0, 50]} ticks={Y_TICKS} width={LEFT}
          tick={<YTick />} tickLine={false} axisLine={{ stroke: '#000', strokeWidth: 2 }}>
          <Label content={() => (
            <text x={32} y={(TOP + BOTTOM) / 2} transform={`rotate(-90, 32, ${(TOP + BOTTOM) / 2})`}
              textAnchor="middle" fontSize={31} fontFamily={FONT} fill="#000">Battery state (E(t))</text>
          )} />
        </YAxis>
        <ReferenceArea x1={0} x2={500} y1={0} y2={50} fill="none" stroke="#000" strokeWidth={2} />
        {SERIES.map((s, i) => (
          <Line key={i} data={toRows(s.pts)} dataKey="v" name={s.name} type="linear"
            stroke={s.color} strokeWidth={s.dotted ? 2.2 : 3} strokeDasharray={s.dotted ? DOTS : undefined}
            strokeLinejoin="round" dot={false} activeDot={false} isAnimationActive={false} />
        ))}
        <Legend layout="vertical" align="center" verticalAlign="middle" content={<LegendBox />}
          wrapperStyle={{ left: 769, top: 27, width: 256, height: 153 }} />
      </LineChart>
    </div>
  );
}
